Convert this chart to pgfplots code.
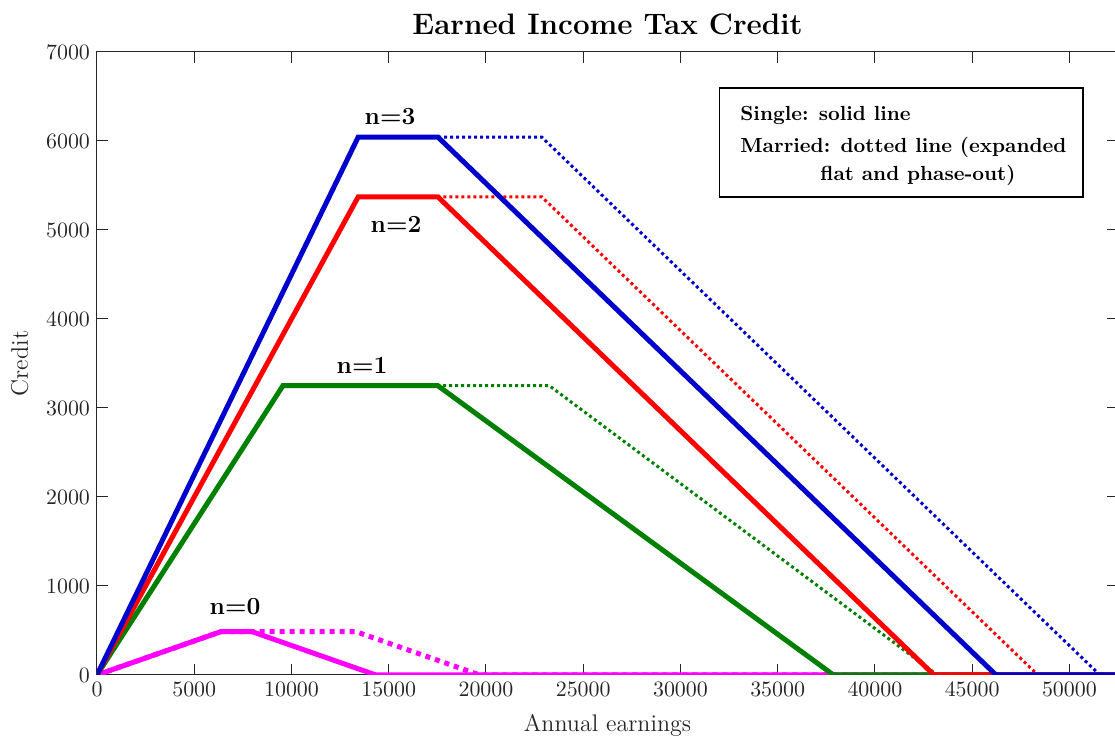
\documentclass[border=0pt]{standalone}
\usepackage{pgfplots}
\pgfplotsset{compat=1.18}
\usetikzlibrary{calc}
\definecolor{eblue}{rgb}{0,0,0.8}
\definecolor{egreen}{rgb}{0,0.5,0}
\definecolor{emag}{rgb}{1,0,1}
\definecolor{ered}{rgb}{1,0,0}
\definecolor{ticktext}{rgb}{0.15,0.15,0.15}
\begin{document}
\begin{tikzpicture}
\begin{axis}[
  name=ax,
  scale only axis,
  width=510.5pt, height=311.5pt,
  xmin=0, xmax=52500, ymin=0, ymax=7000,
  xtick={0,5000,...,50000},
  ytick={0,1000,...,7000},
  tick align=inside,
  major tick length=5.5pt,
  xtick pos=both, ytick pos=both,
  scaled ticks=false,
  xticklabel style={/pgf/number format/1000 sep={}, font=\fontsize{11}{13}\selectfont, text=ticktext},
  yticklabel style={/pgf/number format/1000 sep={}, font=\fontsize{11}{13}\selectfont, text=ticktext},
  xlabel={Annual earnings},
  ylabel={Credit},
  xlabel style={font=\fontsize{12}{14}\selectfont, text=ticktext, yshift=-2pt},
  ylabel style={font=\fontsize{12}{14}\selectfont, text=ticktext, yshift=2pt},
  title={\textbf{Earned Income Tax Credit}},
  title style={font=\fontsize{14.8}{17}\selectfont, yshift=-1pt},
  axis line style={ticktext, line width=0.5pt},
  every tick/.style={ticktext, line width=0.5pt},
  clip=true,
]
% n=0
\addplot[emag, line width=2.5pt, dash pattern=on 2.5pt off 2.5pt] coordinates {(0,0) (6370,487) (13310,487) (19680,0) (52500,0)};
\addplot[emag, line width=2.5pt] coordinates {(0,0) (6370,487) (7970,487) (14340,0) (52500,0)};
% n=1
\addplot[egreen, line width=1.5pt, dash pattern=on 1.5pt off 1.5pt] coordinates {(0,0) (9560,3250) (23260,3250) (43210,0)};
\addplot[egreen, line width=2.5pt] coordinates {(0,0) (9560,3250) (17530,3250) (37870,0) (52500,0)};
% n=2
\addplot[ered, line width=1.5pt, dash pattern=on 1.5pt off 1.5pt] coordinates {(0,0) (13430,5372) (22870,5372) (48378,0)};
\addplot[ered, line width=2.5pt] coordinates {(0,0) (13430,5372) (17530,5372) (43038,0) (52500,0)};
% n=3
\addplot[eblue, line width=1.5pt, dash pattern=on 1.5pt off 1.5pt] coordinates {(0,0) (13430,6044) (22870,6044) (51567,0)};
\addplot[eblue, line width=2.5pt] coordinates {(0,0) (13430,6044) (17530,6044) (46227,0) (52500,0)};

\node[font=\fontsize{12.3}{14}\selectfont\bfseries] at (axis cs:15070,6270) {n=3};
\node[font=\fontsize{12.3}{14}\selectfont\bfseries] at (axis cs:15380,5067) {n=2};
\node[font=\fontsize{12.3}{14}\selectfont\bfseries] at (axis cs:13630,3483) {n=1};
\node[font=\fontsize{12.3}{14}\selectfont\bfseries] at (axis cs:7100,764) {n=0};

\draw[black, line width=0.6pt, fill=white] (axis cs:31990,6596) rectangle (axis cs:50705,5371);
\node[anchor=west, inner sep=0pt, font=\fontsize{10.2}{12}\selectfont\bfseries] at (axis cs:33066,6282) {Single: solid line};
\node[anchor=west, inner sep=0pt, font=\fontsize{10.2}{12}\selectfont\bfseries] at (axis cs:33066,5923) {Married: dotted line (expanded};
\node[anchor=west, inner sep=0pt, font=\fontsize{10.2}{12}\selectfont\bfseries] at (axis cs:37180,5608) {flat and phase-out)};
\end{axis}
\pgfresetboundingbox
\useasboundingbox ($(ax.south west)+(-48.5pt,-31pt)$) rectangle ($(ax.north east)+(-1.5pt,26pt)$);
\end{tikzpicture}
\end{document}
